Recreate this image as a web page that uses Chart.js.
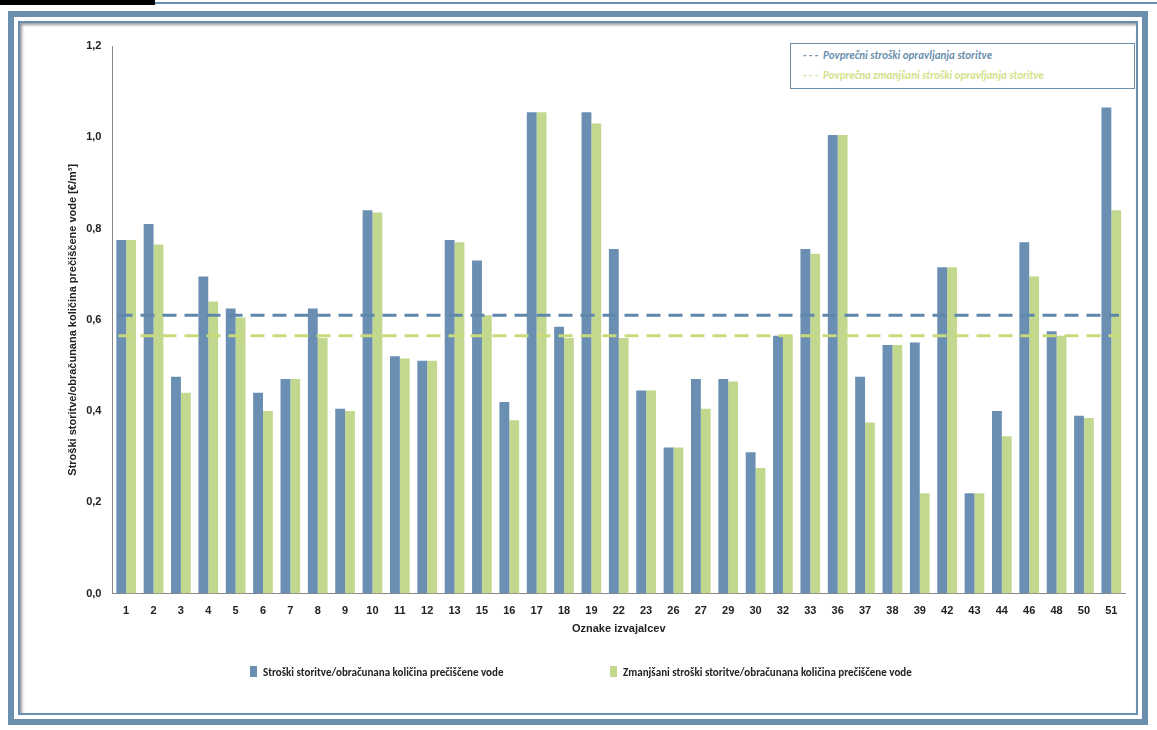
<!DOCTYPE html>
<html><head><meta charset="utf-8">
<script src="https://cdn.jsdelivr.net/npm/chart.js@4"></script>
<style>
body{margin:0;background:#fff;width:1157px;height:730px;position:relative;overflow:hidden;font-family:Carlito,"Liberation Sans",sans-serif}
#topbar{position:absolute;left:0;top:0;width:155px;height:5px;background:#000}
#topline{position:absolute;left:155px;top:2px;right:0;height:2px;background:#6a8fae}
#frame{position:absolute;left:8px;top:11px;width:1128px;height:702px;border:6px solid #6a8fae;background:#fff}
#inner{position:absolute;left:4px;top:4px;right:4px;bottom:4px;border:2px solid #6a8fae;box-shadow:inset 2px 2px 3px #999}
#wrap{position:absolute;left:22px;top:25px;width:1115px;height:690px}
#avgbox{position:absolute;left:790px;top:43px;width:345px;height:46px;border:1px solid #6a8fae;background:#fff;font-style:italic;font-weight:bold;font-size:11px;line-height:20px;padding-left:12px;box-sizing:border-box;padding-top:2px}
#legend{position:absolute;top:666px;left:0;width:1157px;font-size:11px;font-weight:bold;color:#222}
#legend span{position:absolute;white-space:nowrap}
#legend i{display:inline-block;width:7px;height:11px;margin-right:6px;vertical-align:-1px}
</style></head><body>
<div id="topbar"></div><div id="topline"></div>
<div id="frame"><div id="inner"></div></div>
<div id="wrap"><canvas id="c"></canvas></div>
<div id="avgbox"><div style="color:#6a8fae">- - -&nbsp; Povprečni stroški opravljanja storitve</div><div style="color:#d3e28a">- - -&nbsp; Povprečna zmanjšani stroški opravljanja storitve</div></div>
<div id="legend"></div>
<script>
// --- Podatki ---
const oznake = ["1","2","3","4","5","6","7","8","9","10","11","12","13","15","16","17","18","19","22","23","26","27","29","30","32","33","36","37","38","39","42","43","44","46","48","50","51"];
const stroski = [0.775,0.81,0.475,0.695,0.625,0.44,0.47,0.625,0.405,0.84,0.52,0.51,0.775,0.73,0.42,1.055,0.585,1.055,0.755,0.445,0.32,0.47,0.47,0.31,0.565,0.755,1.005,0.475,0.545,0.55,0.715,0.22,0.40,0.77,0.575,0.39,1.065];
const zmanjsani = [0.775,0.765,0.44,0.64,0.605,0.40,0.47,0.56,0.40,0.835,0.515,0.51,0.77,0.61,0.38,1.055,0.56,1.03,0.56,0.445,0.32,0.405,0.465,0.275,0.565,0.745,1.005,0.375,0.545,0.22,0.715,0.22,0.345,0.695,0.565,0.385,0.84];
const povprecje = 0.61;
const povprecjeZmanjsano = 0.565;

const BLUE = "#6a8fb2", GREEN = "#c3d88f";

// --- Crte povprecja ---
const avgLines = {
  id: "avgLines",
  afterDatasetsDraw(chart) {
    const { ctx, chartArea, scales } = chart;
    [[povprecje, "#5f87ab"], [povprecjeZmanjsano, "#c9da7a"]].forEach(([v, col]) => {
      const y = scales.y.getPixelForValue(v);
      ctx.save();
      ctx.strokeStyle = col;
      ctx.lineWidth = 3;
      ctx.setLineDash([14, 8]);
      ctx.beginPath();
      ctx.moveTo(chartArea.left + 6, y);
      ctx.lineTo(chartArea.right - 6, y);
      ctx.stroke();
      ctx.restore();
    });
  }
};

const chart = new Chart(document.getElementById("c"), {
  type: "bar",
  data: {
    labels: oznake,
    datasets: [
      { label: "Stroški storitve/obračunana količina prečiščene vode", data: stroski, backgroundColor: BLUE, categoryPercentage: 0.72, barPercentage: 1 },
      { label: "Zmanjšani stroški storitve/obračunana količina prečiščene vode", data: zmanjsani, backgroundColor: GREEN, categoryPercentage: 0.72, barPercentage: 1 }
    ]
  },
  options: {
    responsive: true, maintainAspectRatio: false, animation: false,
    layout: { padding: { top: 21, right: 12, bottom: 75, left: 40 } },
    plugins: { legend: { display: false }, tooltip: { enabled: false } },
    scales: {
      x: {
        grid: { display: false },
        border: { color: "#888" },
        ticks: { color: "#222", font: { size: 11, weight: "bold" }, maxRotation: 0, autoSkip: false },
        title: { display: true, text: "Oznake izvajalcev", color: "#222", font: { size: 11, weight: "bold" }, padding: { top: 2 } }
      },
      y: {
        min: 0, max: 1.2,
        grid: { display: false },
        border: { color: "#888" },
        ticks: { stepSize: 0.2, color: "#222", font: { size: 11, weight: "bold" }, callback: v => v.toFixed(1).replace(".", ",") },
        title: { display: true, text: "Stroški storitve/obračunana količina prečiščene vode [€/m³]", color: "#222", font: { size: 11, weight: "bold" } }
      }
    }
  },
  plugins: [avgLines]
});

// --- Legenda ---
const leg = document.getElementById("legend");
[[chart.data.datasets[0], 250], [chart.data.datasets[1], 610]].forEach(([ds, x]) => {
  const s = document.createElement("span");
  s.style.left = x + "px";
  s.innerHTML = `<i style="background:${ds.backgroundColor}"></i>${ds.label}`;
  leg.appendChild(s);
});
</script>
</body></html>
